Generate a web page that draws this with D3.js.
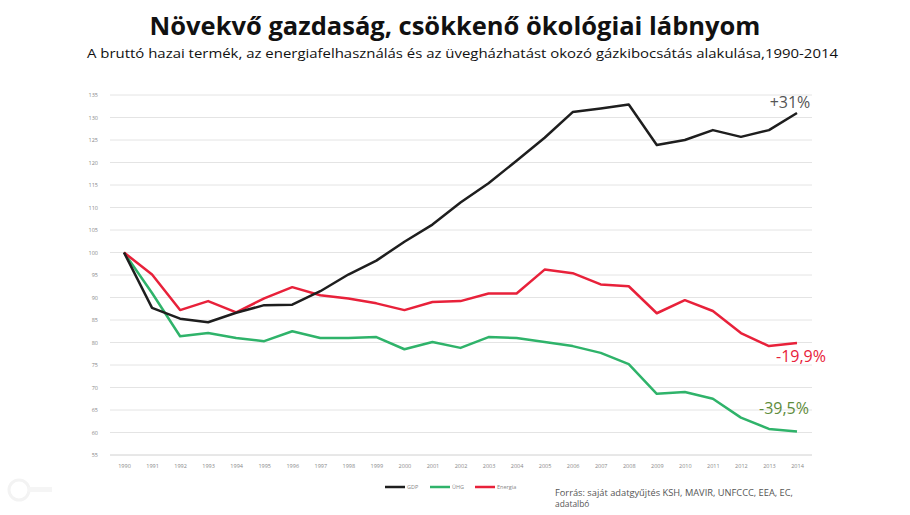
<!DOCTYPE html>
<html><head><meta charset="utf-8">
<script src="https://cdn.jsdelivr.net/npm/d3@7"></script>
<style>body{margin:0;background:#fff}svg{display:block}</style>
</head><body>
<script>
const years = d3.range(1990, 2015);
const gdp = [100,87.7,85.3,84.5,86.6,88.3,88.4,91.4,95.1,98.2,102.4,106.2,111.1,115.4,120.4,125.5,131.2,132,132.9,123.9,125,127.2,125.7,127.2,131];
const ghg = [100,91,81.4,82.1,81,80.3,82.5,81,81,81.2,78.5,80.1,78.8,81.2,81,80.1,79.2,77.7,75.2,68.6,69,67.5,63.3,60.8,60.2];
const energy = [100,95.1,87.2,89.2,86.7,89.8,92.3,90.5,89.8,88.7,87.2,89,89.2,90.9,90.9,96.2,95.4,92.9,92.5,86.5,89.4,87,82.1,79.2,79.9];
const yTicks = d3.range(55, 136, 5);
const seriesNames = ["GDP","ÜHG","Energia"];
const colors = ["#1e1e1e","#2fb36a","#e8213a"];
const endLabels = ["+31%","-19,9%","-39,5%"];

const W=910,H=515;
const svg=d3.select("body").append("svg").attr("width",W).attr("height",H);
const x=d3.scaleLinear().domain([1990,2014]).range([124,797]);
const y=d3.scaleLinear().domain([55,135]).range([455,95]);

svg.append("text").attr("x",455).attr("y",35).attr("text-anchor","middle")
 .attr("font-family","Open Sans").attr("font-weight","bold").attr("font-size",25.5).attr("fill","#111")
 .text("Növekvő gazdaság, csökkenő ökológiai lábnyom");
svg.append("text").attr("x",87).attr("y",58)
 .attr("font-family","Open Sans").attr("font-size",13.4).attr("fill","#111")
 .attr("textLength",751).attr("lengthAdjust","spacingAndGlyphs")
 .text("A bruttó hazai termék, az energiafelhasználás és az üvegházhatást okozó gázkibocsátás alakulása,1990-2014");

// grid
const g=svg.append("g");
g.selectAll("line.grid").data(yTicks.slice(1)).join("line")
 .attr("x1",110).attr("x2",812).attr("y1",d=>y(d)).attr("y2",d=>y(d))
 .attr("stroke","#e4e4e4").attr("stroke-width",1);
const yAxis=d3.axisLeft(y).tickValues(yTicks).tickSize(0).tickPadding(6);
const ya=svg.append("g").attr("transform","translate(104,0)").call(yAxis);
ya.select(".domain").remove();
ya.selectAll("text").attr("font-family","Open Sans").attr("font-size",5.5).attr("fill","#888");
const xAxis=d3.axisBottom(x).tickValues(years).tickFormat(d3.format("d")).tickSize(0).tickPadding(9);
const xa=svg.append("g").attr("transform",`translate(0,${y(55)})`).call(xAxis);
xa.select(".domain").attr("stroke","#d0d0d0").attr("d","M110,0H812");
xa.selectAll("text").attr("font-family","Open Sans").attr("font-size",5.5).attr("fill","#888");

const line=d3.line().x((d,i)=>x(years[i])).y(d=>y(d));
const order=[[ghg,colors[1]],[energy,colors[2]],[gdp,colors[0]]];
order.forEach(([s,c])=>{
 svg.append("path").datum(s).attr("d",line).attr("fill","none").attr("stroke",c).attr("stroke-width",2.5).attr("stroke-linejoin","round");
});

svg.append("text").attr("x",790).attr("y",y(gdp[24])).attr("dy",-5).attr("text-anchor","middle")
 .attr("font-family","Open Sans").attr("font-size",16).attr("fill","#555").text(endLabels[0]);
svg.append("text").attr("x",801).attr("y",y(energy[24])+19).attr("text-anchor","middle")
 .attr("font-family","Open Sans").attr("font-size",16).attr("fill","#e8213a").text(endLabels[1]);
svg.append("text").attr("x",784).attr("y",y(ghg[24])-18).attr("text-anchor","middle")
 .attr("font-family","Open Sans").attr("font-size",16).attr("fill","#5e8c3a").text(endLabels[2]);

// legend
const lx=[385,430,475];
seriesNames.forEach((n,i)=>{
 svg.append("line").attr("x1",lx[i]).attr("x2",lx[i]+20).attr("y1",487).attr("y2",487).attr("stroke",colors[i]).attr("stroke-width",2.5);
 svg.append("text").attr("x",lx[i]+22).attr("y",489).attr("font-family","Open Sans").attr("font-size",5.5).attr("fill","#888").text(n);
});
svg.append("text").attr("x",555).attr("y",496).attr("font-family","Open Sans").attr("font-size",8.4).attr("fill","#555")
 .attr("textLength",238).attr("lengthAdjust","spacingAndGlyphs")
 .text("Forrás: saját adatgyűjtés KSH, MAVIR, UNFCCC, EEA, EC,");
svg.append("text").attr("x",555).attr("y",507).attr("font-family","Open Sans").attr("font-size",8.4).attr("fill","#555")
 .text("adatalbó");

// faint logo
svg.append("circle").attr("cx",19).attr("cy",490).attr("r",10).attr("fill","none").attr("stroke","#f3f3f3").attr("stroke-width",3);
svg.append("rect").attr("x",28).attr("y",487).attr("width",24).attr("height",5).attr("fill","#f5f5f5");
</script>
</body></html>
